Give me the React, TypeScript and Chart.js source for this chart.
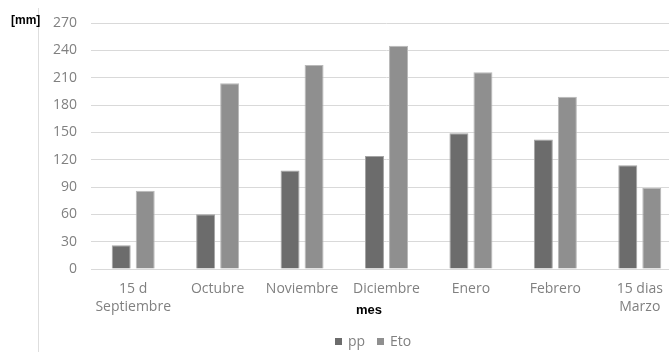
import React, { useEffect, useRef } from "react";
import { Chart, registerables } from "chart.js";

Chart.register(...registerables);

const categories: (string | string[])[] = [
  ["15 d", "Septiembre"],
  "Octubre",
  "Noviembre",
  "Diciembre",
  "Enero",
  "Febrero",
  ["15 dias", "Marzo"],
];
const ppValues = [26, 60, 108, 124, 149, 142, 114];
const etoValues = [86, 204, 224, 245, 216, 189, 89];
const seriesNames = ["pp", "Eto"];
const yTicks = [0, 30, 60, 90, 120, 150, 180, 210, 240, 270];
const yUnit = "[mm]";
const xTitle = "mes";

const PP_COLOR = "#6c6c6c";
const ETO_COLOR = "#8f8f8f";
const TICK_COLOR = "#808080";
const GRID_COLOR = "#d9d9d9";
const FONT = "'Open Sans', 'Liberation Sans', sans-serif";

export default function App() {
  const canvasRef = useRef<HTMLCanvasElement | null>(null);

  useEffect(() => {
    if (!canvasRef.current) return;
    const chart = new Chart(canvasRef.current, {
      type: "bar",
      data: {
        labels: categories as any,
        datasets: [
          {
            label: seriesNames[0],
            data: ppValues,
            backgroundColor: PP_COLOR,
            borderColor: "#a4a4a4",
            borderWidth: 1,
            categoryPercentage: 0.569,
            barPercentage: 0.79,
          },
          {
            label: seriesNames[1],
            data: etoValues,
            backgroundColor: ETO_COLOR,
            borderColor: "#b9b9b9",
            borderWidth: 1,
            categoryPercentage: 0.569,
            barPercentage: 0.79,
          },
        ],
      },
      options: {
        animation: false,
        responsive: false,
        maintainAspectRatio: false,
        layout: { padding: { top: 23, left: 0, right: 8, bottom: 0 } },
        plugins: { legend: { display: false }, tooltip: { enabled: false } },
        scales: {
          x: {
            grid: { display: false, drawTicks: false },
            border: { display: true, color: GRID_COLOR, width: 1 },
            ticks: {
              color: TICK_COLOR,
              font: { family: FONT, size: 14, lineHeight: 1.3 },
              padding: 11,
              maxRotation: 0,
              autoSkip: false,
            },
            afterFit: (scale: any) => {
              scale.height = 83;
            },
          },
          y: {
            min: 0,
            max: 270,
            afterBuildTicks: (scale: any) => {
              scale.ticks = yTicks.map((v) => ({ value: v }));
            },
            grid: { color: GRID_COLOR, drawTicks: false, lineWidth: 1 },
            border: { display: false },
            ticks: {
              color: TICK_COLOR,
              font: { family: FONT, size: 14 },
              padding: 14,
            },
            afterFit: (scale: any) => {
              scale.width = 91;
            },
          },
        },
      },
    });
    return () => chart.destroy();
  }, []);

  return (
    <div
      style={{
        position: "fixed",
        left: 0,
        top: 0,
        width: 669,
        height: 352,
        overflow: "hidden",
        background: "#fff",
      }}
    >
      <canvas
        ref={canvasRef}
        width={690}
        height={352}
        style={{ position: "absolute", left: 0, top: 0, width: 690, height: 352 }}
      />
      <div
        style={{
          position: "absolute",
          left: 38,
          top: 8,
          width: 1,
          height: 344,
          background: "#dedede",
        }}
      />
      <div
        style={{
          position: "absolute",
          left: 11,
          top: 12,
          font: "bold 12px 'Liberation Sans', Arial, sans-serif",
          color: "#000",
          lineHeight: "16px",
        }}
      >
        {yUnit}
      </div>
      <div
        style={{
          position: "absolute",
          left: 319,
          width: 100,
          top: 301,
          textAlign: "center",
          font: "bold 13px 'Liberation Sans', Arial, sans-serif",
          color: "#000",
          lineHeight: "18px",
        }}
      >
        {xTitle}
      </div>
      {seriesNames.map((name, i) => (
        <div
          key={name}
          style={{
            position: "absolute",
            left: i === 0 ? 335 : 377,
            top: 331,
            display: "flex",
            alignItems: "center",
            font: `14px ${FONT}`,
            color: TICK_COLOR,
            lineHeight: "20px",
            whiteSpace: "nowrap",
          }}
        >
          <span
            style={{
              display: "inline-block",
              width: 7,
              height: 7,
              background: i === 0 ? PP_COLOR : ETO_COLOR,
              marginRight: 6,
            }}
          />
          {name}
        </div>
      ))}
    </div>
  );
}
